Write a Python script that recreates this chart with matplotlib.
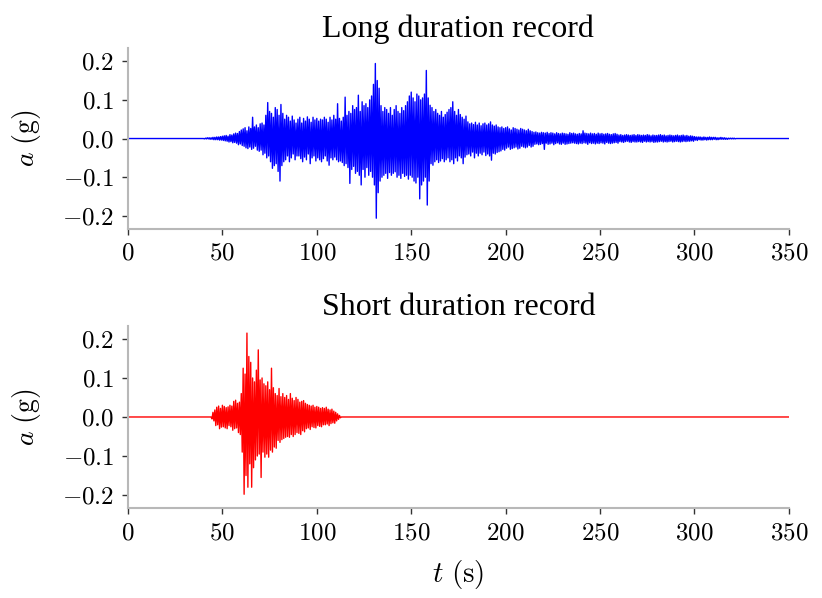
"""
Long vs short duration ground motion records
"""

import numpy as np
import matplotlib
matplotlib.use("Agg")
import matplotlib.pyplot as plt
from matplotlib.ticker import FuncFormatter

# ==========================================
# Data (successive peaks, in mg, one peak every 0.5 s)
# ==========================================

LONG_START = 40.0
SHORT_START = 44.0
PEAK_STEP = 0.5
T_END = 350.0

long_peaks_mg = [
    0, -1, 1, -1, 2, -1, 2, -2, 2, -2, 3, -3, 3, -3, 4, -3, 4, -4, 5, -4,                       # 40
    6, -5, 7, -6, 8, -7, 6, -9, 10, -8, 9, -11, 12, -10, 14, -12, 13, -16, 18, -14,            # 50
    22, -18, 25, -20, 28, -24, 20, -26, 30, -22, 26, -28, 55, -25, 30, -20, 35, -30, 28, -33,  # 60
    38, -30, 40, -42, 35, -38, 60, -50, 93, -45, 70, -60, 65, -77, 55, -70, 80, -65, 75, -85,  # 70
    60, -110, 88, -70, 65, -60, 50, -55, 60, -45, 55, -60, 45, -50, 58, -40, 48, -55, 40, -45,  # 80
    50, -45, 55, -52, 40, -60, 52, -48, 45, -55, 56, -40, 50, -65, 42, -50, 55, -45, 48, -58,  # 90
    52, -50, 45, -55, 50, -60, 48, -52, 55, -45, 50, -58, 42, -69, 55, -50, 48, -55, 60, -48,  # 100
    50, -55, 90, -60, 52, -58, 45, -62, 55, -70, 107, -65, 60, -75, 70, -116, 65, -80, 85, -72,  # 110
    75, -90, 80, -85, 112, -95, 70, -120, 95, -80, 85, -100, 90, -75, 80, -95, 100, -85, 110, -100,  # 120
    140, -120, 194, -206, 150, -140, 130, -110, 85, -100, 70, -95, 80, -90, 75, -103, 65, -88, 80, -95,  # 130
    60, -90, 75, -86, 85, -100, 70, -95, 65, -103, 80, -90, 72, -98, 85, -95, 95, -105, 110, -95,  # 140
    120, -100, 105, -110, 95, -115, 115, -100, 110, -156, 100, -120, 105, -110, 115, -100, 176, -172, 105, -110,  # 150
    86, -65, 80, -69, 70, -60, 75, -55, 65, -62, 60, -58, 70, -52, 55, -60, 62, -55, 68, -50,  # 160
    75, -60, 80, -55, 95, -65, 70, -50, 60, -58, 75, -45, 62, -50, 55, -65, 50, -48, 58, -42,  # 170
    43, -40, 38, -45, 40, -35, 36, -50, 42, -38, 35, -45, 40, -38, 33, -42, 38, -35, 40, -44,  # 180
    35, -40, 38, -45, 43, -56, 35, -38, 32, -40, 35, -36, 30, -34, 28, -32, 30, -28, 26, -30,  # 190
    28, -25, 30, -22, 25, -28, 22, -26, 28, -24, 26, -22, 24, -27, 22, -25, 26, -20, 24, -22,  # 200
    22, -24, 20, -22, 24, -18, 20, -22, 18, -20, 16, -15, 17, -14, 15, -16, 14, -15, 16, -13,  # 210
    15, -28, 14, -12, 16, -15, 13, -14, 15, -12, 14, -16, 12, -13, 15, -11, 13, -14, 12, -15,  # 220
    14, -12, 13, -15, 12, -14, 11, -13, 15, -12, 13, -11, 14, -12, 12, -13, 11, -14, 13, -12,  # 230
    12, -13, 20, -11, 14, -12, 13, -15, 12, -11, 14, -13, 12, -12, 13, -14, 11, -12, 14, -13,  # 240
    12, -11, 13, -12, 11, -14, 12, -10, 13, -12, 11, -13, 10, -12, 12, -11, 13, -10, 11, -12,  # 250
    9, -8, 10, -9, 8, -10, 9, -8, 10, -7, 9, -9, 8, -10, 9, -8, 10, -9, 8, -9,                # 260
    10, -8, 9, -9, 8, -10, 9, -7, 8, -9, 10, -8, 9, -9, 7, -8, 9, -10, 8, -9,                 # 270
    8, -9, 9, -8, 10, -7, 8, -9, 9, -8, 7, -9, 8, -8, 9, -7, 8, -9, 7, -8,                    # 280
    8, -7, 9, -8, 7, -9, 8, -8, 9, -7, 7, -8, 8, -7, 6, -7, 7, -6, 6, -7,                     # 290
    5, -4, 4, -5, 4, -3, 4, -4, 3, -4, 4, -3, 3, -4, 3, -3, 4, -3, 3, -3,                     # 300
    3, -2, 3, -3, 2, -3, 2, -2, 3, -2, 2, -2, 2, -2, 1, -2, 1, -1, 1, -1,                     # 310
    1, -1, 1, -1, 0,                                                                          # 320
]

short_peaks_mg = [
    0, -5, 12, -10, 18, -22, 25, -20, 28, -30, 22, -26, 30, -25, 27, -28, 24, -30, 26, -22,    # 44
    30, -25, 28, -34, 40, -30, 43, -28, 35, -40, 38, -45, 60, -90, 125, -198, 110, -150, 215, -180,  # 54
    155, -120, 140, -180, 100, -130, 90, -110, 120, -100, 172, -95, 95, -155, 100, -90, 85, -103, 80, -95,  # 64
    90, -103, 70, -85, 125, -90, 75, -77, 60, -80, 55, -60, 73, -65, 52, -58, 60, -55, 50, -52,  # 74
    55, -50, 45, -52, 60, -45, 48, -50, 42, -45, 50, -40, 45, -42, 38, -45, 40, -35, 42, -38,  # 84
    35, -30, 32, -28, 30, -32, 28, -25, 30, -27, 25, -28, 27, -22, 25, -24, 22, -25, 24, -20,  # 94
    22, -20, 25, -18, 20, -22, 18, -17, 20, -15, 15, -16, 12, -10, 8, -6, 4, -2, 0,            # 104
]

x_ticks = [0, 50, 100, 150, 200, 250, 300, 350]
y_ticks = [-0.2, -0.1, 0.0, 0.1, 0.2]

titles = ["Long duration record", "Short duration record"]


def build_record(start, peaks_mg):
    t = start + PEAK_STEP * np.arange(len(peaks_mg))
    a = np.array(peaks_mg) / 1000.0
    t = np.concatenate([[0.0], t, [T_END]])
    a = np.concatenate([[0.0], a, [0.0]])
    return t, a


t_long, a_long = build_record(LONG_START, long_peaks_mg)
t_short, a_short = build_record(SHORT_START, short_peaks_mg)

# ==========================================
# Style
# ==========================================

plt.rcParams["mathtext.fontset"] = "cm"
plt.rcParams["font.family"] = ["Liberation Serif", "DejaVu Serif"]

SPINE_COLOR = "#b8b8b8"

# ==========================================
# Figure
# ==========================================

fig = plt.figure(figsize=(8.22, 5.98), dpi=100)

ax_long = fig.add_axes([0.1557, 0.617, 0.804, 0.3027])
ax_short = fig.add_axes([0.1557, 0.150, 0.804, 0.3054])

records = [
    (ax_long, t_long, a_long, "#0000ff"),
    (ax_short, t_short, a_short, "#ff0000"),
]

for (ax, t, a, color), title in zip(records, titles):
    ax.plot(t, a, color=color, linewidth=1.0)

    ax.set_xlim(0, 350)
    ax.set_ylim(-0.234, 0.234)
    ax.set_xticks(x_ticks)
    ax.set_yticks(y_ticks)
    ax.xaxis.set_major_formatter(FuncFormatter(lambda v, p: f"${int(round(v))}$"))
    ax.yaxis.set_major_formatter(FuncFormatter(lambda v, p: f"${v:.1f}$"))

    for side in ["top", "right"]:
        ax.spines[side].set_visible(False)
    for side in ["left", "bottom"]:
        ax.spines[side].set_color(SPINE_COLOR)
        ax.spines[side].set_linewidth(1.5)

    ax.tick_params(
        direction="out",
        length=4,
        width=1,
        color="#333333",
        labelsize=18,
        pad=6
    )

    ax.set_ylabel(r"$a\ (\mathrm{g})$", fontsize=20, labelpad=14)
    ax.set_title(title, fontsize=23, pad=8)

ax_short.set_xlabel(r"$t\ (\mathrm{s})$", fontsize=21, labelpad=10)

fig.savefig("out.png", dpi=100)
